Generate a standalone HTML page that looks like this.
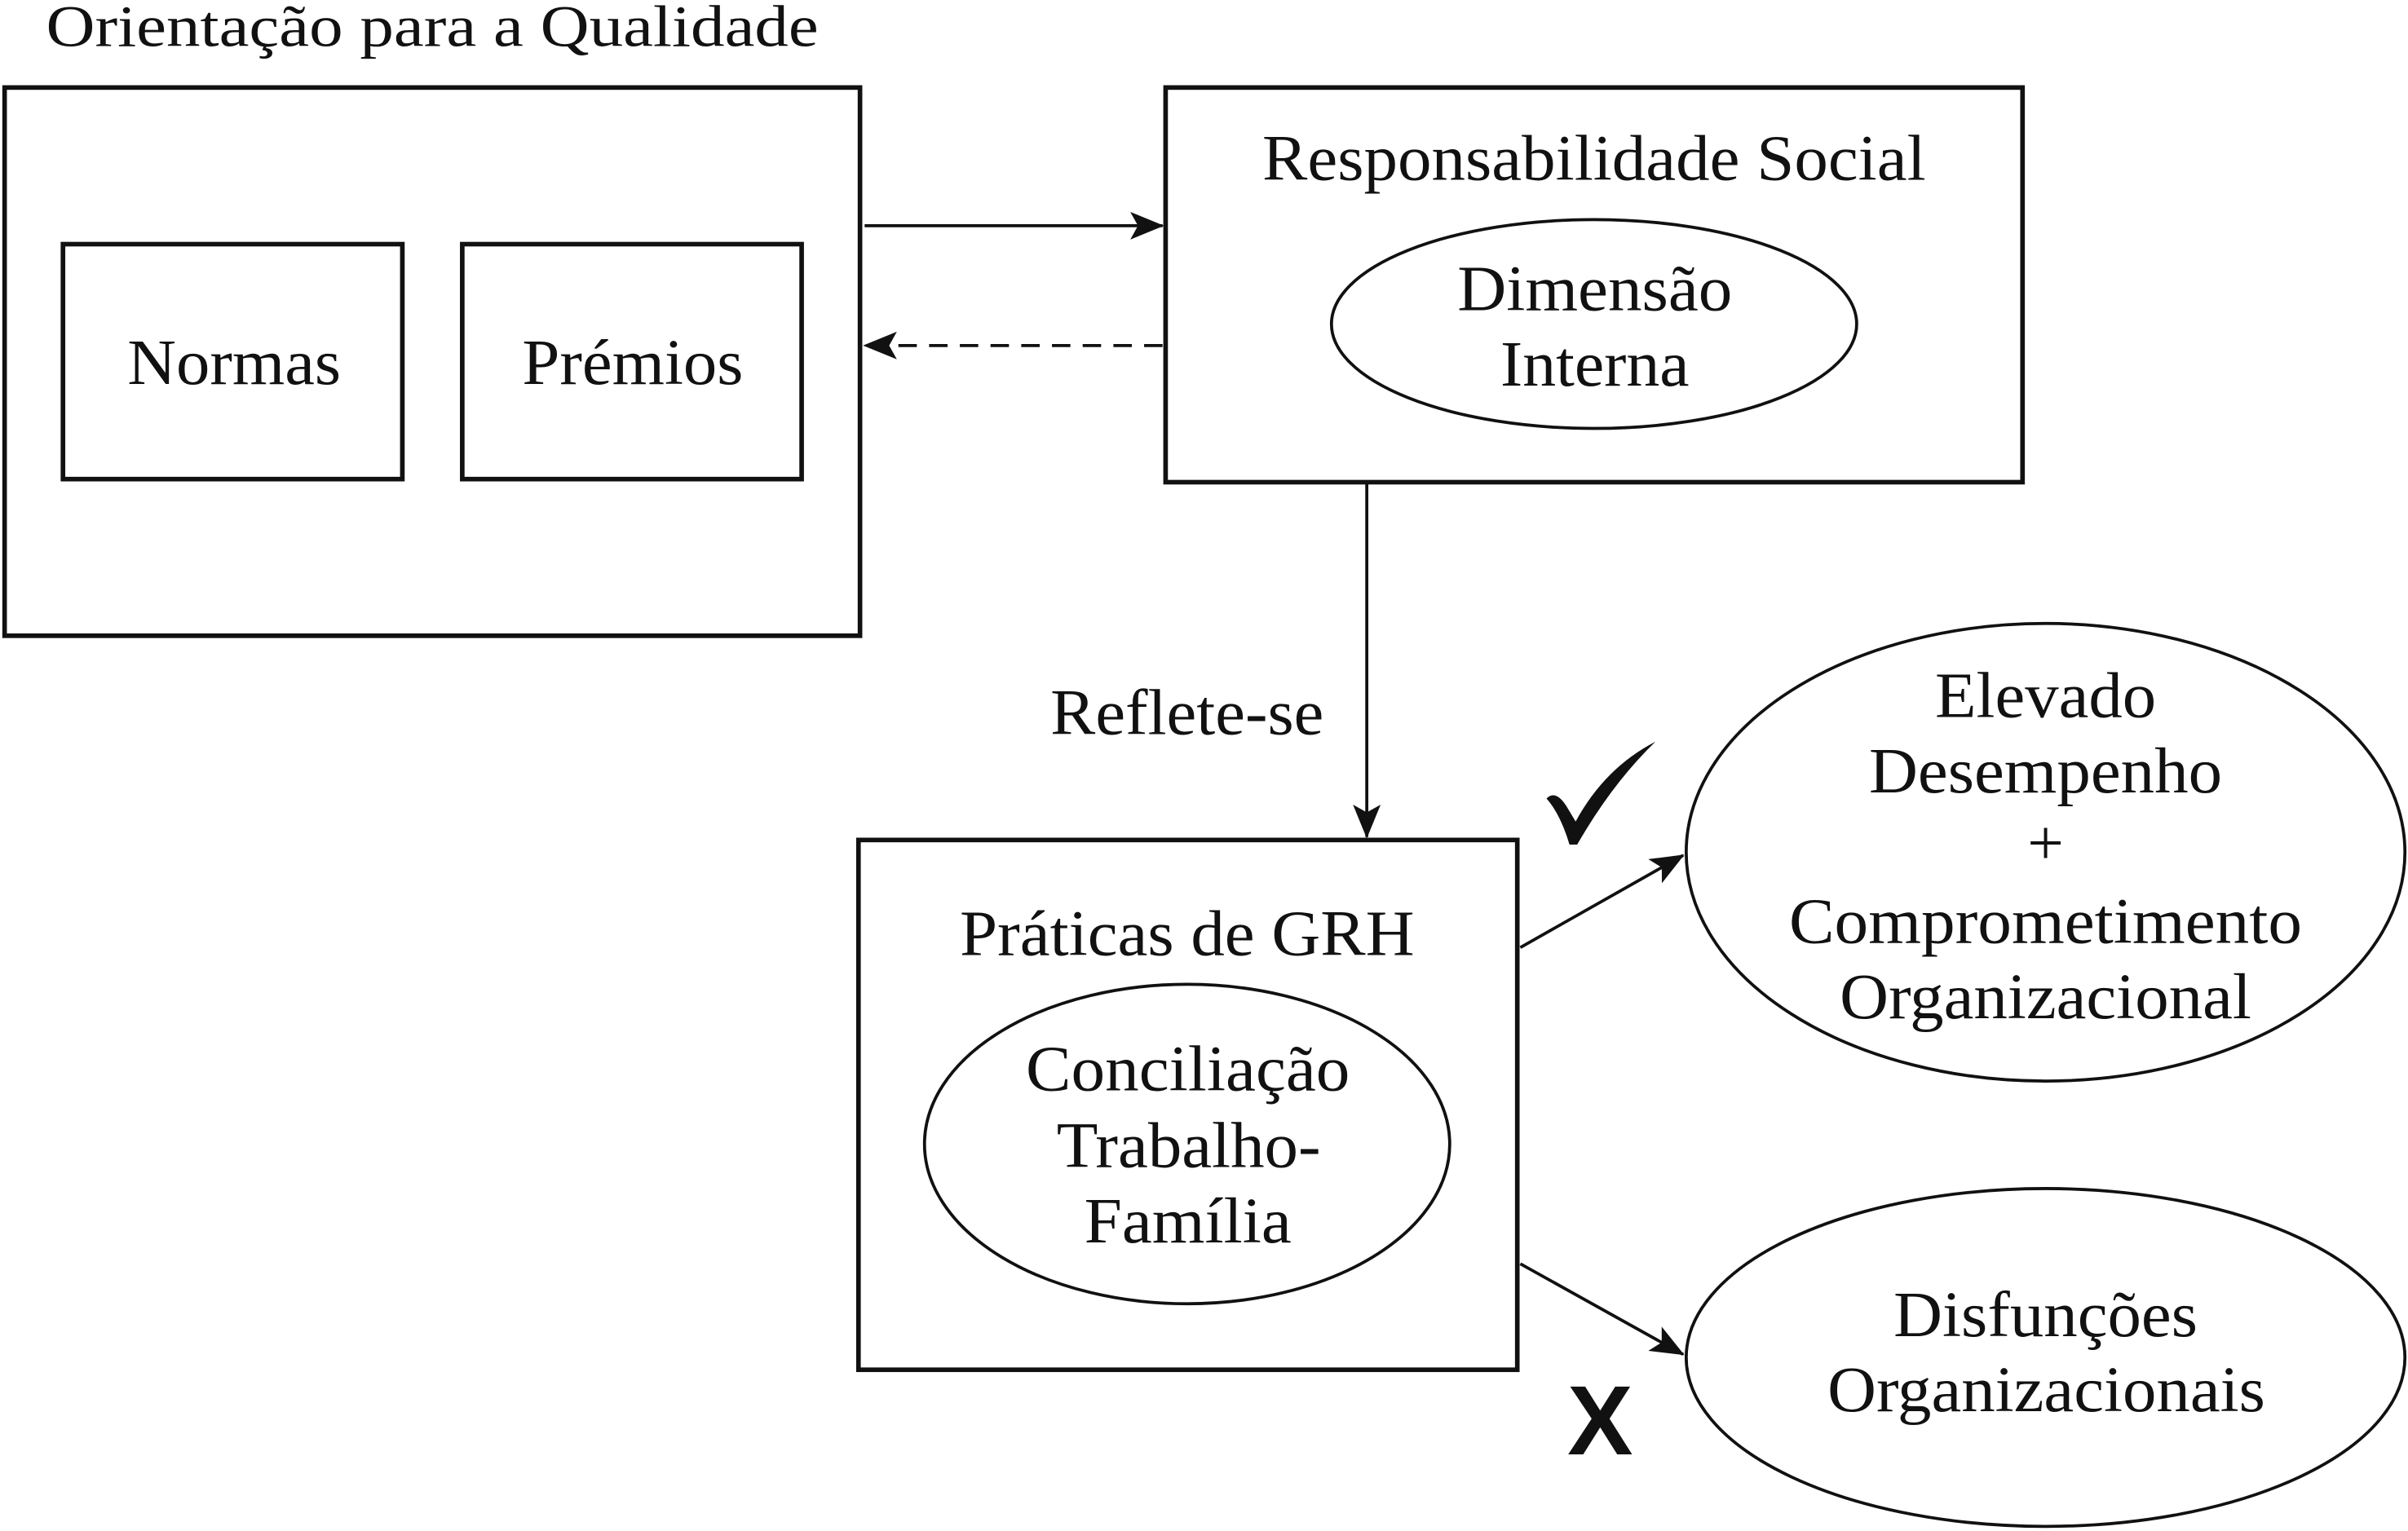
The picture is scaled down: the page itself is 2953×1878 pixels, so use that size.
<!DOCTYPE html>
<html><head><meta charset="utf-8"><style>
html,body{margin:0;padding:0;background:#fff;}
svg{display:block;}
text{font-family:"Liberation Serif",serif;fill:#111;}
</style></head><body>
<svg width="2953" height="1878" viewBox="0 0 1568 997" preserveAspectRatio="none" xmlns="http://www.w3.org/2000/svg">
<defs>
<marker id="ah2" markerWidth="22" markerHeight="18" refX="21" refY="9" orient="auto" markerUnits="userSpaceOnUse">
<path d="M0,0 L22,9 L0,18 L5,9 Z" fill="#111"/>
</marker>
</defs>
<g fill="none" stroke="#111" stroke-width="3">
<rect x="3" y="57" width="557" height="357"/>
<rect x="41" y="159" width="221" height="153"/>
<rect x="301" y="159" width="221" height="153"/>
<rect x="759" y="57" width="558" height="257"/>
<ellipse cx="1038" cy="211" rx="171" ry="68" stroke-width="2"/>
<rect x="559" y="547" width="429" height="345"/>
<ellipse cx="773" cy="745" rx="171" ry="104" stroke-width="2"/>
<ellipse cx="1332" cy="555" rx="234" ry="149" stroke-width="2"/>
<ellipse cx="1332" cy="884" rx="234" ry="110" stroke-width="2"/>
</g>
<g stroke="#111" stroke-width="2" fill="none">
<line x1="563" y1="147" x2="757" y2="147" marker-end="url(#ah2)"/>
<line x1="757" y1="225" x2="563" y2="225" stroke-dasharray="12,8" marker-end="url(#ah2)"/>
<line x1="890" y1="314" x2="890" y2="545" marker-end="url(#ah2)"/>
<line x1="990" y1="617" x2="1096" y2="557" marker-end="url(#ah2)"/>
<line x1="990" y1="823" x2="1096" y2="882" marker-end="url(#ah2)"/>
</g>
<path d="M1007,520 Q1013,514 1020,525 L1026,535 Q1045,500 1078,483 Q1050,510 1027,550 L1022,550 Q1016,530 1007,520 Z" fill="#111"/>
<text x="30" y="30" font-size="38" textLength="503" lengthAdjust="spacingAndGlyphs">Orientação para a Qualidade</text>
<g font-size="42" lengthAdjust="spacingAndGlyphs">
<text x="83" y="250" textLength="139" lengthAdjust="spacingAndGlyphs">Normas</text>
<text x="340" y="250" textLength="144" lengthAdjust="spacingAndGlyphs">Prémios</text>
<text x="822" y="117" textLength="432" lengthAdjust="spacingAndGlyphs">Responsabilidade Social</text>
<text x="949" y="202" textLength="179" lengthAdjust="spacingAndGlyphs">Dimensão</text>
<text x="977" y="251" textLength="123" lengthAdjust="spacingAndGlyphs">Interna</text>
<text x="684" y="478" textLength="178" lengthAdjust="spacingAndGlyphs">Reflete-se</text>
<text x="625" y="622" textLength="296" lengthAdjust="spacingAndGlyphs">Práticas de GRH</text>
<text x="668" y="710" textLength="211" lengthAdjust="spacingAndGlyphs">Conciliação</text>
<text x="688" y="760" textLength="172" lengthAdjust="spacingAndGlyphs">Trabalho-</text>
<text x="706" y="809" textLength="135" lengthAdjust="spacingAndGlyphs">Família</text>
<text x="1260" y="467" textLength="144" lengthAdjust="spacingAndGlyphs">Elevado</text>
<text x="1217" y="516" textLength="230" lengthAdjust="spacingAndGlyphs">Desempenho</text>
<text x="1332" y="563" text-anchor="middle">+</text>
<text x="1165" y="614" textLength="334" lengthAdjust="spacingAndGlyphs">Comprometimento</text>
<text x="1198" y="663" textLength="268" lengthAdjust="spacingAndGlyphs">Organizacional</text>
<text x="1233" y="870" textLength="198" lengthAdjust="spacingAndGlyphs">Disfunções</text>
<text x="1190" y="919" textLength="285" lengthAdjust="spacingAndGlyphs">Organizacionais</text>
</g>
<text x="1042" y="947" font-size="64" font-weight="bold" text-anchor="middle" style="font-family:'Liberation Sans',sans-serif">X</text>
</svg>
</body></html>
